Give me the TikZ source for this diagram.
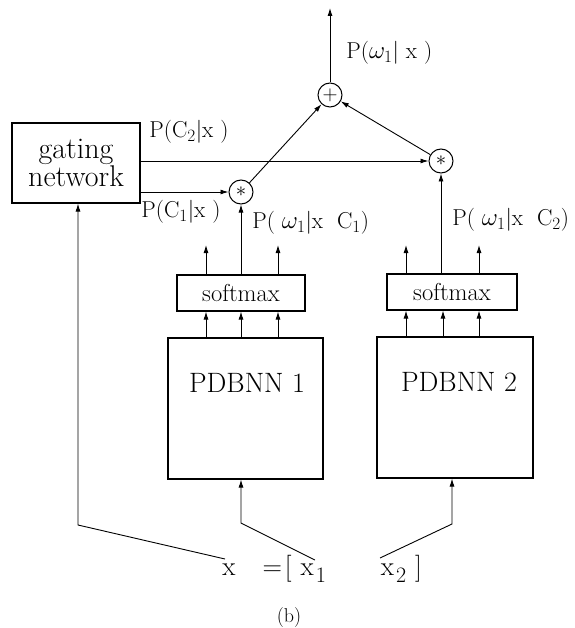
\documentclass[tikz,border=0pt]{standalone}
\usetikzlibrary{arrows.meta,calc}
\begin{document}
\begin{tikzpicture}[x=1pt,y=-1pt,
  line width=0.9pt,
  arr/.style={-{Latex[length=8pt,width=5pt]}},
  box/.style={draw,line width=1.1pt,inner sep=0pt,minimum width=#1},
  op/.style={draw,circle,inner sep=0pt,minimum size=24pt,line width=1pt},
  lab/.style={font=\fontsize{23}{26}\selectfont,inner sep=0pt,anchor=west},
  big/.style={font=\fontsize{28}{31}\selectfont}
]
\useasboundingbox (0,0) rectangle (574,628);
% boxes
\node[box=128pt,minimum height=80pt,align=center,font=\fontsize{30}{26}\selectfont] (gate) at (76,163) {gating\\network};
\node[box=128pt,minimum height=36pt,font=\fontsize{24.5}{26}\selectfont] (sm1) at (241,293) {softmax};
\node[box=130pt,minimum height=36pt,font=\fontsize{24.5}{26}\selectfont] (sm2) at (452,292) {softmax};
\node[box=155pt,minimum height=141pt] (pd1) at (245.5,408.5) {};
\node[box=156pt,minimum height=141pt] (pd2) at (455,407.5) {};
\node[big] (pt1) at (247,383) {PDBNN 1};
\node[big] (pt2) at (459,382) {PDBNN 2};
% operators
\node[op] (plus) at (330,95) {\fontsize{20}{20}\selectfont $+$};
\node[op] (s1) at (241,192) {\fontsize{22}{20}\selectfont $\ast$};
\node[op] (s2) at (441,161) {\fontsize{22}{20}\selectfont $\ast$};
% labels
\node[lab] (lout) at (346,53) {P($\omega_1$|\ x )};
\node[lab] (lc2) at (149,132) {P(C$_2$|x )};
\node[lab] (lc1) at (141,212) {P(C$_1$|x )};
\node[lab] (lp1) at (252,223) {P( $\omega_1$|x\ \ C$_1$)};
\node[lab] (lp2) at (452,220) {P( $\omega_1$|x\ \ C$_2$)};
% input text
\node[font=\fontsize{27}{30}\selectfont,anchor=base west,inner sep=0pt] (xin) at (222,575)
  {x\hspace{27pt}=\hspace{3pt}[\hspace{9pt}x\hspace{2pt}\raisebox{-7pt}{\fontsize{22}{24}\selectfont 1}\hspace{55pt}x\hspace{2pt}\raisebox{-7pt}{\fontsize{22}{24}\selectfont 2}\hspace{9pt}]};
\node[font=\fontsize{20}{22}\selectfont,anchor=base,inner sep=0pt] (cap) at (289,622) {(b)};
% output
\coordinate (top) at (330,8);
\draw[arr] (plus) -- (top);
\draw[arr] (s1) -- (plus);
\draw[arr] (s2) -- (plus);
\draw[arr] (gate.east |- s2) -- (s2);
\draw[arr] (gate.east |- s1) -- (s1);
\draw[arr] (sm1.north) -- (s1);
\draw[arr] (sm2.north -| s2) -- (s2);
% softmax outputs
\foreach \x/\n in {206/a,278/b}{
  \coordinate (o1\n) at (\x,245);
  \draw[arr] (sm1.north -| o1\n) -- (o1\n);
}
\foreach \x/\n in {406/a,479/b}{
  \coordinate (o2\n) at (\x,245);
  \draw[arr] (sm2.north -| o2\n) -- (o2\n);
}
% pdbnn to softmax
\foreach \x in {206,241,278}{
  \draw[arr] (pd1.north -| \x,0) -- (sm1.south -| \x,0);
}
\foreach \x in {406,443,479}{
  \draw[arr] (pd2.north -| \x,0) -- (sm2.south -| \x,0);
}
% inputs
\coordinate (xa) at (225,559);
\coordinate (xb) at (315,560);
\coordinate (xc) at (380,558);
\draw[arr] (xa) -- (78,525) -- (gate.south -| 78,0);
\draw[arr] (xb) -- (241,523) -- (pd1.south -| 241,0);
\draw[arr] (xc) -- (452,524) -- (pd2.south -| 452,0);
\end{tikzpicture}
\end{document}
